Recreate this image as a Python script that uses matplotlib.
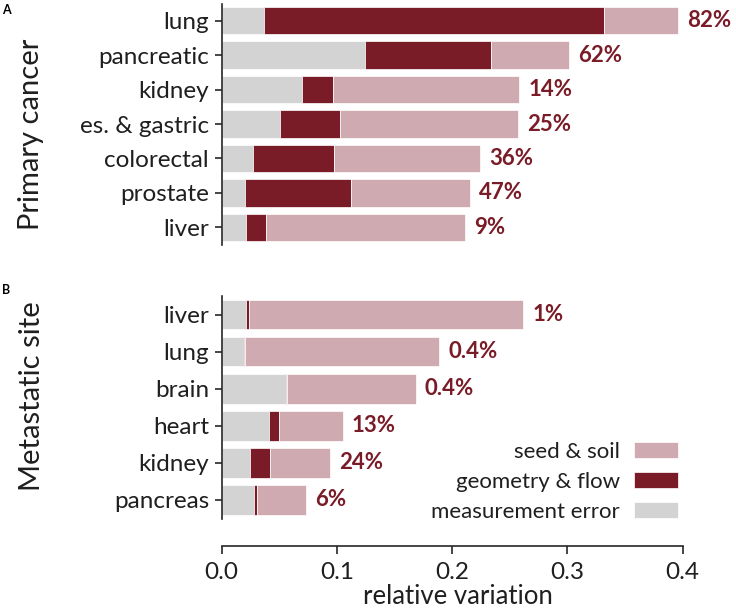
import matplotlib
matplotlib.use("Agg")
import matplotlib.pyplot as plt
from matplotlib.patches import Patch
import numpy as np

plt.rcParams['font.family'] = ['Lato', 'DejaVu Sans']

# Panel A: primary cancer
prim_cats = ["lung", "pancreatic", "kidney", "es. & gastric", "colorectal", "prostate", "liver"]
prim_meas = [0.0369, 0.1245, 0.0701, 0.0510, 0.0276, 0.0206, 0.0212]
prim_geom = [0.2948, 0.1090, 0.0263, 0.0518, 0.0700, 0.0915, 0.0174]
prim_seed = [0.0640, 0.0681, 0.1619, 0.1546, 0.1266, 0.1037, 0.1728]
prim_pct = ["82%", "62%", "14%", "25%", "36%", "47%", "9%"]

# Panel B: metastatic site
met_cats = ["liver", "lung", "brain", "heart", "kidney", "pancreas"]
met_meas = [0.0212, 0.0194, 0.0563, 0.0415, 0.0249, 0.0281]
met_geom = [0.0028, 0.0008, 0.0005, 0.0080, 0.0168, 0.0027]
met_seed = [0.2375, 0.1688, 0.1115, 0.0556, 0.0527, 0.0426]
met_pct = ["1%", "0.4%", "0.4%", "13%", "24%", "6%"]

xticks = [0.0, 0.1, 0.2, 0.3, 0.4]

C_SEED = "#CFABB1"
C_GEOM = "#7A1C27"
C_MEAS = "#D3D3D3"
C_TEXT = "#7A1C27"
C_AX = "#262626"
C_LAB = "#1f1f1f"

W, H = 736, 613
fig = plt.figure(figsize=(W / 100, H / 100), dpi=100)

def fx(px):
    return px / W

def fy(py):
    return 1 - py / H

x0 = 221.5
scale = 1153.0
ax_w = 0.41 * scale

axA = fig.add_axes([fx(x0), fy(244.5), fx(ax_w), (244.5 - 3.5) / H])
axB = fig.add_axes([fx(x0), fy(518.5), fx(ax_w), (518.5 - 296) / H])


def draw(ax, cats, meas, geom, seed, pct):
    y = np.arange(len(cats))
    meas = np.array(meas)
    geom = np.array(geom)
    seed = np.array(seed)
    kw = dict(height=0.8, edgecolor="white", linewidth=0.5, clip_on=False)
    ax.barh(y, meas, color=C_MEAS, label="measurement error", **kw)
    ax.barh(y, geom, left=meas, color=C_GEOM, label="geometry & flow", **kw)
    ax.barh(y, seed, left=meas + geom, color=C_SEED, label="seed & soil", **kw)
    tot = meas + geom + seed
    for yi, t, p in zip(y, tot, pct):
        ax.annotate(p, (t, yi), xytext=(6.5, 0), textcoords="offset points",
                    ha="left", va="center", fontsize=16, fontweight="bold",
                    color=C_TEXT, annotation_clip=False)
    ax.set_yticks(y)
    ax.set_yticklabels(cats, fontsize=17.5, color=C_LAB)
    ax.set_ylim(len(cats) - 0.5, -0.5)
    ax.set_xlim(0, 0.41)
    for s in ["top", "right"]:
        ax.spines[s].set_visible(False)
    ax.spines["left"].set_color(C_AX)
    ax.spines["left"].set_linewidth(1.2)
    ax.tick_params(axis="y", length=5, width=1.2, color=C_AX, pad=4)


draw(axA, prim_cats, prim_meas, prim_geom, prim_seed, prim_pct)
draw(axB, met_cats, met_meas, met_geom, met_seed, met_pct)

axA.spines["bottom"].set_visible(False)
axA.set_xticks([])

axB.spines["bottom"].set_position(("outward", 20))
axB.spines["bottom"].set_bounds(0, 0.4)
axB.spines["bottom"].set_color(C_AX)
axB.spines["bottom"].set_linewidth(1.2)
axB.set_xticks(xticks)
axB.set_xticklabels([f"{t:.1f}" for t in xticks], fontsize=17.5, color=C_LAB)
axB.tick_params(axis="x", length=6, width=1.2, color=C_AX, pad=5)
axB.set_xlabel("relative variation", fontsize=18.5, color=C_LAB, labelpad=1)

fig.text(fx(31.5), fy(134), "Primary cancer", fontsize=21,
         rotation=90, ha="center", va="center", color=C_LAB)
fig.text(fx(31.5), fy(396), "Metastatic site", fontsize=21,
         rotation=90, ha="center", va="center", color=C_LAB)

fig.text(fx(2), fy(10), "A", fontsize=9, fontweight="bold", va="center", ha="left")
fig.text(fx(2), fy(290), "B", fontsize=9, fontweight="bold", va="center", ha="left")

handles = [Patch(facecolor=C_SEED, edgecolor="white", linewidth=0.5),
           Patch(facecolor=C_GEOM, edgecolor="white", linewidth=0.5),
           Patch(facecolor=C_MEAS, edgecolor="white", linewidth=0.5)]
labels = ["seed & soil", "geometry & flow", "measurement error"]
fig.legend(handles, labels, loc="lower right",
           bbox_to_anchor=(fx(678), fy(522)), frameon=False, markerfirst=False,
           fontsize=16, handlelength=2.0, handleheight=0.7, labelspacing=0.45,
           handletextpad=0.6, borderpad=0, borderaxespad=0,
           labelcolor=C_LAB)

fig.savefig("out.png", dpi=100)
